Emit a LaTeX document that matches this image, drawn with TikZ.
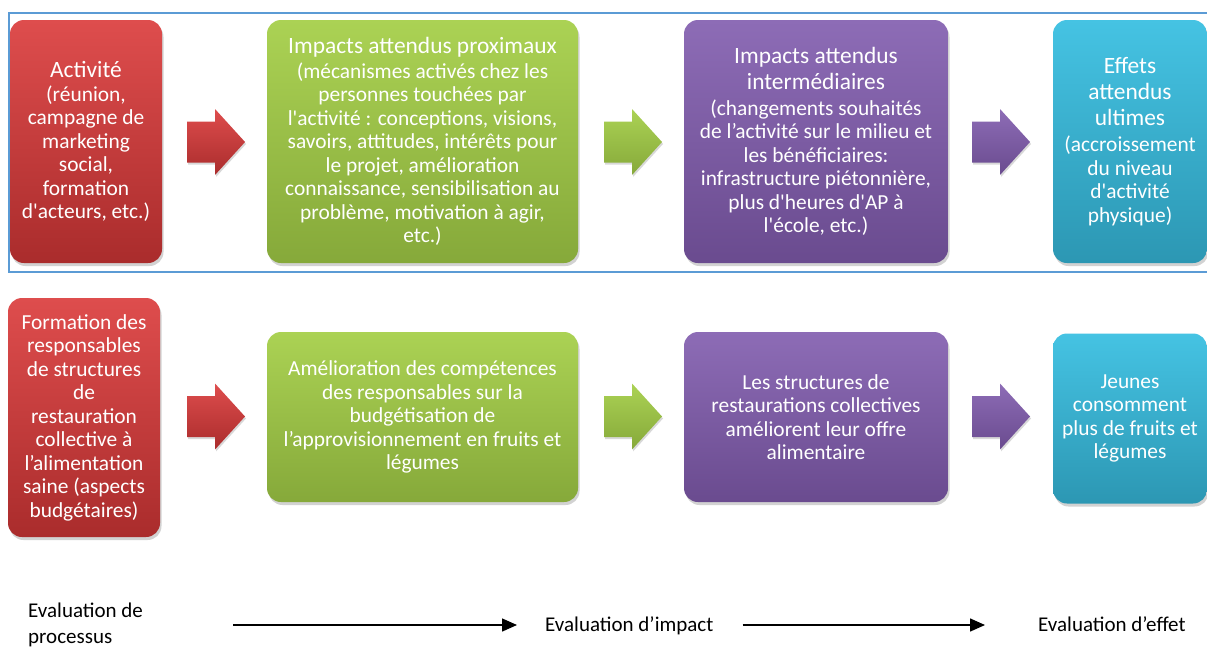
\documentclass[tikz,border=0pt]{standalone}
\usepackage{fontspec}
\setmainfont{Carlito}[Ligatures=TeXOff]
\usetikzlibrary{shadows,arrows.meta,calc}
\definecolor{redT}{HTML}{DE4D4D}
\definecolor{redB}{HTML}{AA2C2C}
\definecolor{grnT}{HTML}{ABD254}
\definecolor{grnB}{HTML}{86A93A}
\definecolor{purT}{HTML}{8D6CB6}
\definecolor{purB}{HTML}{6A4B8F}
\definecolor{cyaT}{HTML}{45C3E3}
\definecolor{cyaB}{HTML}{2C97B3}
\definecolor{frameblue}{HTML}{5B9BD5}
\newcommand\ttl[1]{{\fontsize{23.4}{26}\selectfont #1}}
\newcommand\blkarrow[3]{%
  \path[shift={(#1)}, top color=#2, bottom color=#3,
        drop shadow={opacity=0.3,shadow xshift=1pt,shadow yshift=-2pt}]
    (-29,-20.5) -- (-1,-20.5) -- (-1,-33) -- (29,0) -- (-1,33) -- (-1,20.5) -- (-29,20.5) -- cycle;}
\begin{document}
\begin{tikzpicture}[x=1pt,y=-1pt,
  box/.style={rounded corners=14pt, text=white, align=center, inner sep=0pt,
    font=\fontsize{21.4}{23.5}\selectfont,
    drop shadow={opacity=0.35,shadow xshift=1.5pt,shadow yshift=-3pt}},
  redbox/.style={box, top color=redT, bottom color=redB},
  grnbox/.style={box, top color=grnT, bottom color=grnB},
  purbox/.style={box, top color=purT, bottom color=purB},
  cyabox/.style={box, top color=cyaT, bottom color=cyaB},
  evtext/.style={inner sep=0pt, font=\fontsize{21}{26}\selectfont, align=left},
  evarrow/.style={line width=1.5pt, -{Triangle[length=15pt,width=13pt]}}]
\useasboundingbox (0,0) rectangle (1207,648);
\fill[white] (0,0) rectangle (1207,648);

% frame
\draw[frameblue, line width=1.3pt] (9,13) rectangle (1230,272);

% top row
\node[redbox, minimum width=152pt, minimum height=243pt] (r1) at (86,141.5)
  {\ttl{Activité}\\(réunion,\\campagne de\\marketing\\social,\\formation\\d'acteurs, etc.)};
\node[grnbox, minimum width=311pt, minimum height=243pt] (g1) at (422.5,141.5)
  {\ttl{Impacts attendus proximaux}\\[1.5pt](mécanismes activés chez les\\personnes touchées par\\l'activité : conceptions, visions,\\savoirs, attitudes, intérêts pour\\le projet, amélioration\\connaissance, sensibilisation au\\problème, motivation à agir,\\etc.)};
\node[purbox, minimum width=264pt, minimum height=243pt] (p1) at (816,141.5)
  {\ttl{Impacts attendus}\\[2.5pt]\ttl{intermédiaires}\\[2pt](changements souhaités\\de l’activité sur le milieu et\\les bénéficiaires:\\infrastructure piétonnière,\\plus d'heures d'AP à\\l'école, etc.)};
\node[cyabox, minimum width=154pt, minimum height=243pt] (c1) at (1130,141.5)
  {\ttl{Effets}\\[2.5pt]\ttl{attendus}\\[2.5pt]\ttl{ultimes}\\[2.5pt](accroissement\\du niveau\\d'activité\\physique)};

% bottom row
\node[redbox, minimum width=152pt, minimum height=239pt] (r2) at (84,417.5)
  {Formation des\\responsables\\de structures\\de\\restauration\\collective à\\l’alimentation\\saine (aspects\\budgétaires)};
\node[grnbox, minimum width=311pt, minimum height=170pt] (g2) at (422.5,417)
  {Amélioration des compétences\\des responsables sur la\\budgétisation de\\l’approvisionnement en fruits et\\légumes};
\node[purbox, minimum width=264pt, minimum height=170pt] (p2) at (816,417)
  {Les structures de\\restaurations collectives\\améliorent leur offre\\alimentaire};
\node[cyabox, minimum width=154pt, minimum height=170pt] (c2) at (1130,418.5)
  {Jeunes\\consomment\\plus de fruits et\\légumes};

% block arrows
\coordinate (a1) at (216,142);
\coordinate (a2) at (633,142);
\coordinate (a3) at (1001,142);
\coordinate (b1) at (216,416.5);
\coordinate (b2) at (633,416.5);
\coordinate (b3) at (1001,416.5);
\blkarrow{a1}{redT}{redB}
\blkarrow{a2}{grnT}{grnB}
\blkarrow{a3}{purT}{purB}
\blkarrow{b1}{redT}{redB}
\blkarrow{b2}{grnT}{grnB}
\blkarrow{b3}{purT}{purB}

% evaluation labels
\node[evtext, anchor=north west] (ep) at (28,603) {Evaluation de\\processus};
\node[evtext, anchor=base west] (ei) at (545,631) {Evaluation d’impact};
\node[evtext, anchor=base west] (ee) at (1038,631) {Evaluation d’effet};
\coordinate (es) at (233,625);
\draw[evarrow, shorten >=28pt] (es) -- (es -| ei.west);
\draw[evarrow, shorten <=29pt, shorten >=53pt] (ei.east |- es) -- (es -| ee.west);
\end{tikzpicture}
\end{document}
